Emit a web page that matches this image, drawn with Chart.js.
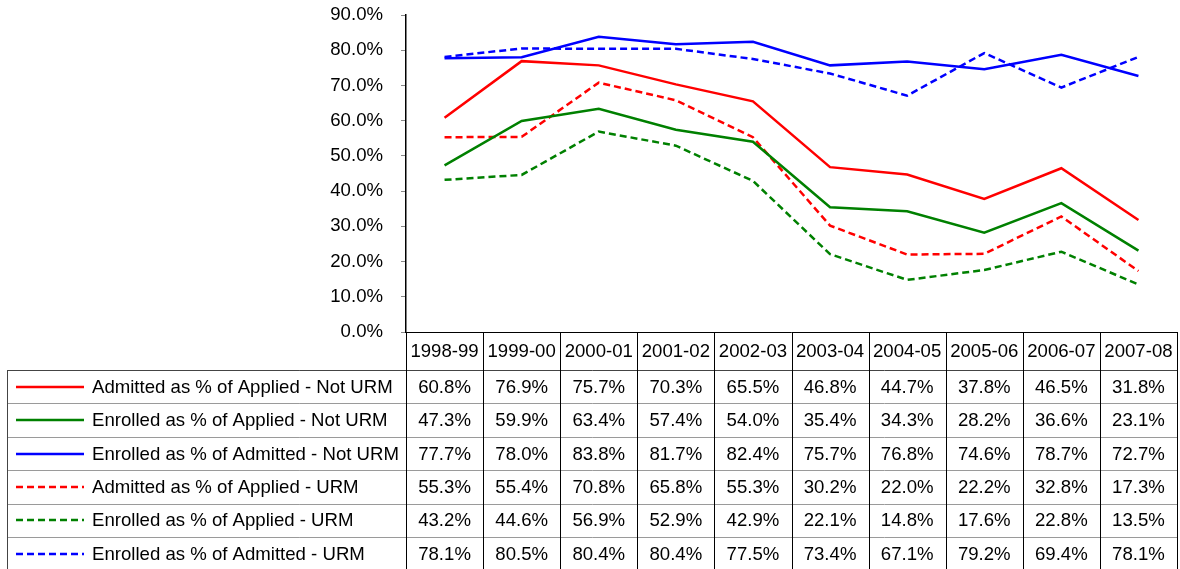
<!DOCTYPE html>
<html>
<head>
<meta charset="utf-8">
<script src="https://cdn.jsdelivr.net/npm/chart.js@4"></script>
<style>
	html, body { margin: 0; padding: 0; background: #fff; }
	#wrap { width: 1180px; height: 569px; position: relative; }
</style>
</head>
<body>
<div id="wrap"><canvas id="chart"></canvas></div>
<script>
var years = ['1998-99', '1999-00', '2000-01', '2001-02', '2002-03', '2003-04', '2004-05', '2005-06', '2006-07', '2007-08'];

var admAppNotUrm = [60.8, 76.9, 75.7, 70.3, 65.5, 46.8, 44.7, 37.8, 46.5, 31.8];
var enrAppNotUrm = [47.3, 59.9, 63.4, 57.4, 54.0, 35.4, 34.3, 28.2, 36.6, 23.1];
var enrAdmNotUrm = [77.7, 78.0, 83.8, 81.7, 82.4, 75.7, 76.8, 74.6, 78.7, 72.7];
var admAppUrm = [55.3, 55.4, 70.8, 65.8, 55.3, 30.2, 22.0, 22.2, 32.8, 17.3];
var enrAppUrm = [43.2, 44.6, 56.9, 52.9, 42.9, 22.1, 14.8, 17.6, 22.8, 13.5];
var enrAdmUrm = [78.1, 80.5, 80.4, 80.4, 77.5, 73.4, 67.1, 79.2, 69.4, 78.1];

var yTicks = [0, 10, 20, 30, 40, 50, 60, 70, 80, 90];

var FAMILY = '"Liberation Sans", Arial, sans-serif';
var FONT = '18.6px ' + FAMILY;

function series(label, data, color, dashed) {
	return {
		label: label,
		data: data,
		borderColor: color,
		backgroundColor: color,
		borderWidth: 2.5,
		borderDash: dashed ? [7, 4] : [],
		pointRadius: 0,
		tension: 0,
		fill: false
	};
}

// draws the data table under the plot, using the x scale for column positions
var dataTable = {
	id: 'dataTable',
	afterDraw: function(chart) {
		var ctx = chart.ctx;
		var area = chart.chartArea;
		var xs = chart.scales.x;
		var n = years.length;
		var colW = (area.right - area.left) / n;
		var top = area.bottom;
		var headBottom = top + 38;
		var rowH = 33.4;
		var sets = chart.data.datasets;
		var bottom = headBottom + rowH * sets.length;
		var legLeft = 7.5;

		ctx.save();
		ctx.font = FONT;
		ctx.textBaseline = 'middle';
		ctx.textAlign = 'center';
		ctx.fillStyle = '#000';

		// horizontal gray lines between rows
		ctx.lineWidth = 1;
		ctx.strokeStyle = '#9a9a9a';
		for (var r = 1; r < sets.length; r++) {
			var yy = Math.round(headBottom + r * rowH) + 0.5;
			ctx.beginPath();
			ctx.moveTo(legLeft, yy);
			ctx.lineTo(area.right, yy);
			ctx.stroke();
		}

		// header top and rows top
		ctx.strokeStyle = '#000';
		ctx.beginPath();
		ctx.moveTo(area.left, Math.round(top) + 0.5);
		ctx.lineTo(area.right, Math.round(top) + 0.5);
		ctx.stroke();
		ctx.strokeStyle = '#444';
		ctx.beginPath();
		ctx.moveTo(legLeft, Math.round(headBottom) + 0.5);
		ctx.lineTo(area.right, Math.round(headBottom) + 0.5);
		ctx.stroke();

		// vertical lines
		ctx.strokeStyle = '#000';
		for (var c = 0; c <= n; c++) {
			var xx = Math.round(area.left + c * colW) + 0.5;
			ctx.beginPath();
			ctx.moveTo(xx, top);
			ctx.lineTo(xx, bottom);
			ctx.stroke();
		}
		ctx.strokeStyle = '#444';
		ctx.beginPath();
		ctx.moveTo(legLeft, headBottom);
		ctx.lineTo(legLeft, bottom);
		ctx.stroke();

		// header labels
		years.forEach(function(y, i) {
			ctx.fillText(y, xs.getPixelForValue(i), (top + headBottom) / 2 + 1);
		});

		// rows
		sets.forEach(function(ds, r) {
			var cy = headBottom + r * rowH + rowH / 2;
			ctx.textAlign = 'center';
			ds.data.forEach(function(v, i) {
				ctx.fillText(v.toFixed(1) + '%', xs.getPixelForValue(i), cy + 1);
			});
			// legend key
			ctx.save();
			ctx.strokeStyle = ds.borderColor;
			ctx.lineWidth = 2.5;
			ctx.setLineDash(ds.borderDash);
			ctx.beginPath();
			ctx.moveTo(16, Math.round(cy));
			ctx.lineTo(84, Math.round(cy));
			ctx.stroke();
			ctx.restore();
			ctx.textAlign = 'left';
			ctx.fillText(ds.label, 92, cy + 1);
		});
		ctx.restore();
	}
};

new Chart(document.getElementById('chart').getContext('2d'), {
	type: 'line',
	data: {
		labels: years,
		datasets: [
			series('Admitted as % of Applied - Not URM', admAppNotUrm, '#ff0000', false),
			series('Enrolled as % of Applied - Not URM', enrAppNotUrm, '#008000', false),
			series('Enrolled as % of Admitted - Not URM', enrAdmNotUrm, '#0000ff', false),
			series('Admitted as % of Applied - URM', admAppUrm, '#ff0000', true),
			series('Enrolled as % of Applied - URM', enrAppUrm, '#008000', true),
			series('Enrolled as % of Admitted - URM', enrAdmUrm, '#0000ff', true)
		]
	},
	options: {
		responsive: true,
		maintainAspectRatio: false,
		animation: false,
		layout: { padding: { top: 15, bottom: 237, right: 3, left: 0 } },
		plugins: {
			legend: { display: false },
			tooltip: { enabled: false }
		},
		scales: {
			x: {
				type: 'category',
				offset: true,
				display: false
			},
			y: {
				min: 0,
				max: 90,
				afterFit: function(scale) {
					scale.width = 406;
					scale.paddingTop = 0;
					scale.paddingBottom = 0;
				},
				afterBuildTicks: function(scale) {
					scale.ticks = yTicks.map(function(v) { return { value: v }; });
				},
				border: { display: true, color: '#000', width: 1.5 },
				grid: {
					drawOnChartArea: false,
					drawTicks: true,
					tickLength: 5,
					tickColor: '#888'
				},
				ticks: {
					padding: 18,
					color: '#000',
					font: { family: FAMILY, size: 18.6 },
					callback: function(v) { return v.toFixed(1) + '%'; }
				}
			}
		}
	},
	plugins: [dataTable]
});
</script>
</body>
</html>
